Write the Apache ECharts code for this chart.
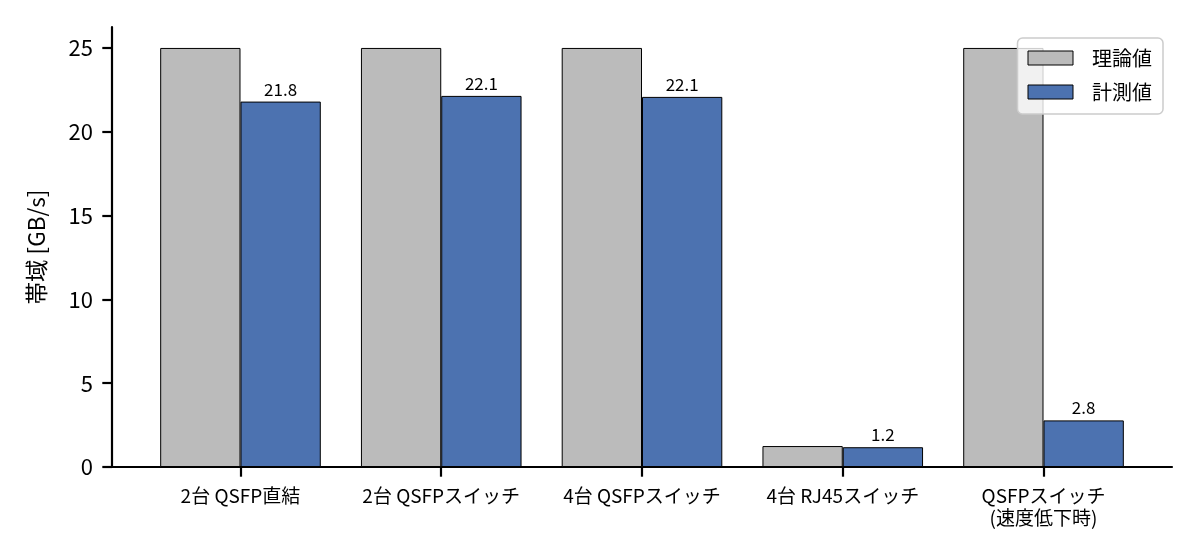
<!DOCTYPE html>
<html>
<head>
<meta charset="utf-8">
<script src="https://cdn.jsdelivr.net/npm/echarts@6/dist/echarts.min.js"></script>
<style>
  html,body{margin:0;padding:0;background:#fff;}
  #chart{width:1200px;height:560px;}
</style>
</head>
<body>
<div id="chart"></div>
<script>
// カテゴリと値
const CATS = ['2台 QSFP直結', '2台 QSFPスイッチ', '4台 QSFPスイッチ', '4台 RJ45スイッチ', 'QSFPスイッチ\n(速度低下時)'];
const THEORY = [25, 25, 25, 1.25, 25];
const MEASURED = [21.8, 22.14, 22.08, 1.18, 2.78];
const Y_TICKS = [0, 5, 10, 15, 20, 25];
const X_POS = CATS.map((_, i) => i);

const FONT = '"Noto Sans CJK JP", "Noto Sans", sans-serif';
const AXLINE = {color: '#000', width: 2.2};

const chart = echarts.init(document.getElementById('chart'), null, {renderer: 'canvas'});

chart.setOption({
  animation: false,
  textStyle: {fontFamily: FONT, color: '#000'},
  grid: {left: 112, right: 28, top: 27, bottom: 93},
  legend: {
    orient: 'vertical', right: 37, top: 38,
    icon: 'rect', itemWidth: 45, itemHeight: 14, itemGap: 14,
    padding: [10, 11, 12, 10],
    backgroundColor: 'rgba(255,255,255,0.8)',
    borderColor: '#cccccc', borderWidth: 1.5, borderRadius: 5,
    itemStyle: {borderColor: '#000', borderWidth: 1},
    textStyle: {fontFamily: FONT, fontSize: 20, lineHeight: 20, color: '#000', padding: [0, 0, 0, 14]},
    data: ['理論値', '計測値']
  },
  xAxis: {
    type: 'value', min: -0.64, max: 4.64,
    axisLine: {show: true, lineStyle: AXLINE},
    axisTick: {show: true, customValues: X_POS, length: 9.7, lineStyle: AXLINE},
    axisLabel: {customValues: X_POS, formatter: v => CATS[Math.round(v)] || '',
      fontFamily: FONT, fontSize: 19, color: '#000', margin: 18, lineHeight: 22},
    splitLine: {show: false}
  },
  yAxis: {
    type: 'value', min: 0, max: 26.25,
    name: '帯域 [GB/s]', nameLocation: 'middle', nameGap: 64,
    nameTextStyle: {fontFamily: FONT, fontSize: 22.5, color: '#000'},
    axisLine: {show: true, onZero: false, lineStyle: AXLINE},
    axisTick: {show: true, customValues: Y_TICKS, length: 9.7, lineStyle: AXLINE},
    axisLabel: {customValues: Y_TICKS, fontFamily: FONT, fontSize: 22, color: '#000', margin: 19},
    splitLine: {show: false}
  },
  series: [
    {
      name: '理論値', type: 'bar',
      data: THEORY.map((v, i) => [X_POS[i], v]),
      barWidth: '40%', barGap: '0%',
      itemStyle: {color: '#bbbbbb', borderColor: '#000', borderWidth: 1}
    },
    {
      name: '計測値', type: 'bar',
      data: MEASURED.map((v, i) => [X_POS[i], v]),
      barWidth: '40%', barGap: '0%',
      itemStyle: {color: '#4c72b0', borderColor: '#000', borderWidth: 1},
      label: {show: true, position: 'top', distance: 4, fontFamily: FONT, fontSize: 17, color: '#000',
        formatter: p => p.value[1].toFixed(1)}
    }
  ]
});
</script>
</body>
</html>
